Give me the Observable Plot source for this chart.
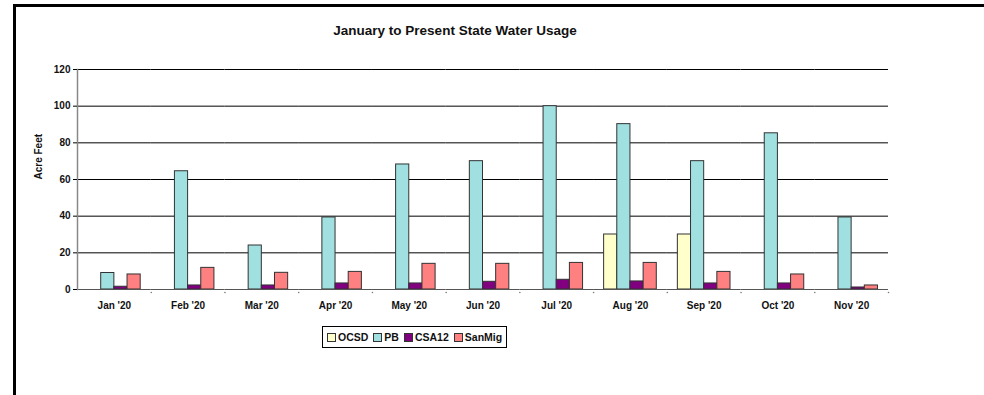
<!DOCTYPE html>
<html>
<head>
<meta charset="utf-8">
<script src="https://cdn.jsdelivr.net/npm/d3@7"></script>
<script src="https://cdn.jsdelivr.net/npm/@observablehq/plot@0.6"></script>
<style>
  html, body { margin: 0; padding: 0; background: #fff; }
  body { width: 984px; height: 395px; position: relative; overflow: hidden; font-family: "Liberation Sans", Arial, sans-serif; }
  #frame { position: absolute; left: 13px; top: 4px; width: 975px; height: 400px; border-top: 3px solid #000; border-left: 3px solid #000; box-sizing: border-box; }
  #title { position: absolute; left: 0; width: 910px; top: 23px; text-align: center; font-weight: bold; font-size: 13.5px; color: #111; }
  #chart { position: absolute; left: 0; top: 0; }
  #legend { position: absolute; left: 322px; top: 326px; width: 185px; height: 22px; border: 1px solid #000; box-sizing: border-box; display: flex; align-items: center; padding-left: 4px; font-weight: bold; font-size: 10.5px; color: #111; white-space: nowrap; }
  #legend .sw { display: inline-block; width: 7px; height: 7px; border: 1px solid #333; margin-right: 2px; }
  #legend .it { margin-right: 5px; display: inline-flex; align-items: center; }
</style>
</head>
<body>
<div id="frame"></div>
<div id="title">January to Present State Water Usage</div>
<div id="chart"></div>
<div id="legend"></div>
<script>
const months = ["Jan '20","Feb '20","Mar '20","Apr '20","May '20","Jun '20","Jul '20","Aug '20","Sep '20","Oct '20","Nov '20"];
const seriesNames = ["OCSD","PB","CSA12","SanMig"];
const colors = ["#FFFFCC","#A0E0E0","#800080","#FF8080"];
const OCSD   = [null, null, null, null, null, null, null, 30, 30, null, null];
const PB     = [9, 64.5, 24, 39.3, 68.2, 70, 100, 90.2, 70, 85.2, 39.3];
const CSA12  = [1.5, 2.2, 2.2, 3.3, 3.3, 4.2, 5.3, 4.4, 3.3, 3.3, 1.1];
const SanMig = [8.2, 11.8, 9.1, 9.6, 14, 14, 14.5, 14.5, 9.6, 8.2, 2.2];
const yTicks = [0, 20, 40, 60, 80, 100, 120];

const valuesBySeries = {OCSD, PB, CSA12, SanMig};
const data = [];
months.forEach((m, i) => {
  seriesNames.forEach(s => {
    const v = valuesBySeries[s][i];
    if (v != null) data.push({month: m, series: s, value: v});
  });
});

const font = "Liberation Sans, Arial, sans-serif";

const plot = Plot.plot({
  width: 984,
  height: 320,
  marginLeft: 77,
  marginRight: 96,
  marginTop: 69,
  marginBottom: 31,
  style: {fontFamily: font, fontSize: "10px", fontWeight: "bold", color: "#111", background: "transparent"},
  fx: {domain: months, padding: 0, round: false, axis: null},
  x: {domain: seriesNames, paddingInner: 0, paddingOuter: 0.8, round: false, axis: null},
  y: {domain: [0, 120], axis: null},
  color: {domain: seriesNames, range: colors},
  marks: [
    Plot.ruleY(yTicks.filter(d => d > 0), {stroke: "#000", strokeWidth: 1}),
    Plot.barY(data, {fx: "month", x: "series", y: "value", fill: "series", stroke: "#333", strokeWidth: 1}),
    Plot.ruleY([0], {stroke: "#555", strokeWidth: 1}),
    Plot.frame({anchor: "left", stroke: "#888", strokeWidth: 1.5, facetAnchor: "left"}),
    Plot.dot([0], {frameAnchor: "bottom-right", r: 0.8, fill: "#777", stroke: null, dy: 3}),
    Plot.axisY({ticks: yTicks, tickSize: 4, tickPadding: 3, label: null, stroke: "#000", fontSize: 10, fontWeight: "bold"}),
    Plot.text(["Acre Feet"], {frameAnchor: "left", rotate: -90, dx: -39, fontSize: 10, fontWeight: "bold", facetAnchor: "left"}),
    Plot.axisFx({anchor: "bottom", tickSize: 0, tickPadding: 12, label: null, fontSize: 10, fontWeight: "bold"})
  ]
});
document.getElementById("chart").appendChild(plot);

const legend = document.getElementById("legend");
seriesNames.forEach((s, i) => {
  const it = document.createElement("span");
  it.className = "it";
  const sw = document.createElement("span");
  sw.className = "sw";
  sw.style.background = colors[i];
  it.appendChild(sw);
  it.appendChild(document.createTextNode(s));
  legend.appendChild(it);
});
</script>
</body>
</html>
